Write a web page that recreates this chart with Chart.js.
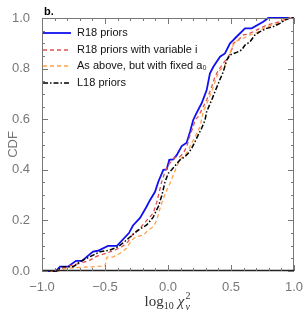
<!DOCTYPE html>
<html>
<head>
<meta charset="utf-8">
<script src="https://cdn.jsdelivr.net/npm/chart.js@4/dist/chart.umd.min.js"></script>
<style>
  html, body { margin: 0; padding: 0; background: #fff; }
  #wrap { width: 305px; height: 314px; position: relative; }
</style>
</head>
<body>
<div id="wrap"><canvas id="cdf"></canvas></div>
<script>
// series labels
const seriesNames = ['R18 priors', 'R18 priors with variable i', 'As above, but with fixed a\u2080', 'L18 priors'];

// R18 priors (blue, solid)
const r18X = [-1.0, -0.889, -0.857, -0.794, -0.730, -0.683, -0.595, -0.556, -0.476, -0.405, -0.31, -0.278, -0.222, -0.175, -0.143, -0.103, -0.077, -0.037, -0.01, 0.01, 0.042, 0.069, 0.109, 0.148, 0.175, 0.2, 0.228, 0.267, 0.307, 0.333, 0.36, 0.413, 0.452, 0.492, 0.518, 0.532, 0.611, 0.664, 0.756, 0.796, 1.0];
const r18Y = [0, 0, 0.017, 0.017, 0.04, 0.04, 0.077, 0.08, 0.099, 0.099, 0.15, 0.18, 0.21, 0.25, 0.28, 0.313, 0.353, 0.40, 0.402, 0.439, 0.441, 0.458, 0.494, 0.507, 0.55, 0.597, 0.626, 0.663, 0.715, 0.781, 0.807, 0.847, 0.86, 0.90, 0.913, 0.92, 0.959, 0.959, 0.985, 1.0, 1.0];

// R18 priors with variable i (red, dashed)
const varIX = [-1.0, -0.88, -0.857, -0.78, -0.685, -0.619, -0.563, -0.484, -0.42, -0.365, -0.317, -0.275, -0.222, -0.169, -0.117, -0.09, -0.05, -0.024, 0.002, 0.056, 0.095, 0.121, 0.148, 0.175, 0.2, 0.214, 0.24, 0.267, 0.307, 0.347, 0.373, 0.4, 0.439, 0.479, 0.506, 0.518, 0.558, 0.598, 0.637, 0.677, 0.783, 0.836, 0.889, 0.955, 1.0];
const varIY = [0, 0, 0.008, 0.02, 0.032, 0.043, 0.059, 0.071, 0.083, 0.096, 0.116, 0.149, 0.169, 0.2, 0.229, 0.27, 0.353, 0.392, 0.419, 0.449, 0.452, 0.465, 0.491, 0.538, 0.57, 0.597, 0.61, 0.636, 0.676, 0.728, 0.768, 0.794, 0.821, 0.847, 0.874, 0.9, 0.913, 0.933, 0.937, 0.946, 0.972, 0.979, 0.985, 1.0, 1.0];

// As above, but with fixed a0 (orange, dashed)
const fixAX = [-1.0, -0.873, -0.804, -0.5, -0.484, -0.437, -0.381, -0.328, -0.288, -0.248, -0.196, -0.156, -0.117, -0.09, -0.063, -0.037, -0.01, 0.016, 0.042, 0.069, 0.095, 0.121, 0.148, 0.188, 0.228, 0.254, 0.28, 0.32, 0.36, 0.386, 0.413, 0.452, 0.479, 0.506, 0.532, 0.598, 0.651, 0.704, 0.756, 0.823, 0.875, 0.929, 0.968, 1.0];
const fixAY = [0, 0, 0.011, 0.02, 0.055, 0.055, 0.07, 0.09, 0.123, 0.136, 0.142, 0.162, 0.175, 0.2, 0.248, 0.287, 0.32, 0.347, 0.379, 0.412, 0.439, 0.455, 0.465, 0.505, 0.544, 0.57, 0.63, 0.676, 0.728, 0.768, 0.794, 0.814, 0.841, 0.88, 0.906, 0.92, 0.933, 0.942, 0.959, 0.972, 0.979, 0.992, 1.0, 1.0];

// L18 priors (black, dash-dot)
const l18X = [-1.0, -0.883, -0.844, -0.752, -0.698, -0.593, -0.54, -0.46, -0.394, -0.328, -0.275, -0.222, -0.169, -0.117, -0.075, -0.048, -0.024, 0.002, 0.029, 0.095, 0.135, 0.161, 0.188, 0.214, 0.24, 0.267, 0.294, 0.307, 0.347, 0.373, 0.4, 0.439, 0.466, 0.492, 0.545, 0.585, 0.611, 0.651, 0.69, 0.73, 0.783, 0.836, 0.889, 0.929, 0.968, 1.0];
const l18Y = [0, 0, 0.017, 0.017, 0.037, 0.063, 0.076, 0.083, 0.096, 0.123, 0.146, 0.166, 0.182, 0.213, 0.257, 0.30, 0.352, 0.386, 0.40, 0.439, 0.452, 0.465, 0.485, 0.511, 0.538, 0.564, 0.597, 0.63, 0.676, 0.709, 0.742, 0.788, 0.834, 0.854, 0.864, 0.874, 0.893, 0.906, 0.933, 0.946, 0.959, 0.966, 0.979, 0.992, 1.0, 1.0];

const xTicks = [-1.0, -0.5, 0.0, 0.5, 1.0];
const yTicks = [0.0, 0.2, 0.4, 0.6, 0.8, 1.0];

const styles = [
  { color: '#1010f0', width: 1.8, dash: [] },
  { color: '#e2504c', width: 1.3, dash: [4, 3] },
  { color: '#ffa04a', width: 1.3, dash: [4, 3] },
  { color: '#000000', width: 1.5, dash: [5, 2, 1.5, 2] },
];

function toPoints(xs, ys) {
  return xs.map((x, i) => ({ x: x, y: ys[i] }));
}

const allSeries = [[r18X, r18Y], [varIX, varIY], [fixAX, fixAY], [l18X, l18Y]];
// draw order: black underneath, blue on top
const drawOrder = [3, 2, 1, 0];

function fmt(v) {
  const s = Math.abs(v).toFixed(1);
  return v < -1e-9 ? '\u2212' + s : s;
}

// frame, inner ticks, legend and titles
const decorPlugin = {
  id: 'decor',
  afterDraw(chart) {
    const ctx = chart.ctx;
    const a = chart.chartArea;
    const xs = chart.scales.x, ys = chart.scales.y;
    ctx.save();

    // frame
    ctx.strokeStyle = '#777';
    ctx.lineWidth = 1;
    ctx.setLineDash([]);
    ctx.strokeRect(a.left + 0.5, a.top + 0.5, a.right - a.left - 1, a.bottom - a.top - 1);
    ctx.strokeStyle = '#222';
    ctx.lineWidth = 1.6;
    ctx.beginPath();
    ctx.moveTo(a.left, a.bottom - 0.5);
    ctx.lineTo(a.right, a.bottom - 0.5);
    ctx.stroke();

    // ticks pointing inward
    ctx.strokeStyle = '#777';
    ctx.lineWidth = 1;
    for (let i = 0; i <= 20; i++) {
      const v = -1 + i * 0.1;
      const len = (i % 5 === 0) ? 6 : 3;
      const px = Math.round(xs.getPixelForValue(v)) + 0.5;
      ctx.beginPath();
      ctx.moveTo(px, a.bottom); ctx.lineTo(px, a.bottom - len);
      ctx.moveTo(px, a.top); ctx.lineTo(px, a.top + len);
      ctx.stroke();
    }
    for (let i = 0; i <= 20; i++) {
      const v = i * 0.05;
      const len = (i % 4 === 0) ? 6 : 3;
      const py = Math.round(ys.getPixelForValue(v)) + 0.5;
      ctx.beginPath();
      ctx.moveTo(a.left, py); ctx.lineTo(a.left + len, py);
      ctx.moveTo(a.right, py); ctx.lineTo(a.right - len, py);
      ctx.stroke();
    }

    // legend
    const rows = [33, 50, 66, 83];
    ctx.font = '11px "Liberation Sans", Arial, sans-serif';
    ctx.textBaseline = 'middle';
    ctx.textAlign = 'left';
    seriesNames.forEach((name, i) => {
      const st = styles[i];
      ctx.strokeStyle = st.color;
      ctx.lineWidth = st.width;
      ctx.setLineDash(st.dash);
      ctx.beginPath();
      ctx.moveTo(a.left + 1, rows[i]);
      ctx.lineTo(a.left + 29, rows[i]);
      ctx.stroke();
      ctx.setLineDash([]);
      ctx.fillStyle = '#111';
      ctx.fillText(name, a.left + 35, rows[i]);
    });

    // panel label
    ctx.font = 'bold 11px "Liberation Sans", Arial, sans-serif';
    ctx.textBaseline = 'alphabetic';
    ctx.fillStyle = '#000';
    ctx.fillText('b.', a.left + 2, 15);

    // y title
    ctx.save();
    ctx.translate(13, (a.top + a.bottom) / 2);
    ctx.rotate(-Math.PI / 2);
    ctx.font = '13px "Liberation Sans", Arial, sans-serif';
    ctx.fillStyle = '#777';
    ctx.textAlign = 'center';
    ctx.textBaseline = 'middle';
    ctx.fillText('CDF', 0, 0);
    ctx.restore();

    // x title: log10 chi^2_nu
    const big = '15px "Liberation Serif", "Times New Roman", serif';
    const bigIt = 'italic 15px "Liberation Serif", "Times New Roman", serif';
    const small = '10px "Liberation Serif", "Times New Roman", serif';
    const smallIt = 'italic 10px "Liberation Serif", "Times New Roman", serif';
    ctx.font = big; const wLog = ctx.measureText('log').width;
    ctx.font = small; const w10 = ctx.measureText('10').width;
    ctx.font = bigIt; const wChi = ctx.measureText('\u03c7').width;
    ctx.font = small; const w2 = ctx.measureText('2').width;
    const gap = 4;
    const total = wLog + w10 + gap + wChi + 1 + w2 + 1;
    let cx = (a.left + a.right) / 2 - total / 2;
    const base = 306;
    ctx.fillStyle = '#333';
    ctx.textAlign = 'left';
    ctx.font = big; ctx.fillText('log', cx, base); cx += wLog;
    ctx.font = small; ctx.fillText('10', cx, base + 3); cx += w10 + gap;
    ctx.font = bigIt; ctx.fillText('\u03c7', cx, base); cx += wChi + 1;
    ctx.font = small; ctx.fillText('2', cx, base - 7);
    ctx.font = smallIt; ctx.fillText('\u03bd', cx, base + 4);

    ctx.restore();
  }
};

const ctx = document.getElementById('cdf').getContext('2d');
new Chart(ctx, {
  type: 'scatter',
  data: {
    datasets: drawOrder.map(i => ({
      label: seriesNames[i],
      data: toPoints(allSeries[i][0], allSeries[i][1]),
      showLine: true,
      borderColor: styles[i].color,
      borderWidth: styles[i].width,
      borderDash: styles[i].dash,
      pointRadius: 0,
      tension: 0,
      fill: false,
      clip: 3,
    })),
  },
  options: {
    responsive: true,
    maintainAspectRatio: false,
    animation: false,
    layout: { padding: { left: 0, top: 18, right: 11, bottom: 0 } },
    scales: {
      x: {
        type: 'linear',
        min: -1, max: 1,
        afterBuildTicks: scale => { scale.ticks = xTicks.map(v => ({ value: v })); },
        afterFit: scale => { scale.height = 43; },
        grid: { display: false },
        border: { display: false },
        ticks: {
          padding: 1,
          color: '#777',
          font: { family: '"Liberation Sans", Arial, sans-serif', size: 13 },
          maxRotation: 0,
          callback: v => fmt(v),
        },
      },
      y: {
        type: 'linear',
        min: 0, max: 1,
        afterBuildTicks: scale => { scale.ticks = yTicks.map(v => ({ value: v })); },
        afterFit: scale => { scale.width = 42; },
        grid: { display: false },
        border: { display: false },
        ticks: {
          padding: 4,
          color: '#777',
          font: { family: '"Liberation Sans", Arial, sans-serif', size: 13 },
          callback: v => fmt(v),
        },
      },
    },
    plugins: {
      legend: { display: false },
      tooltip: { enabled: false },
    },
  },
  plugins: [decorPlugin],
});
</script>
</body>
</html>
